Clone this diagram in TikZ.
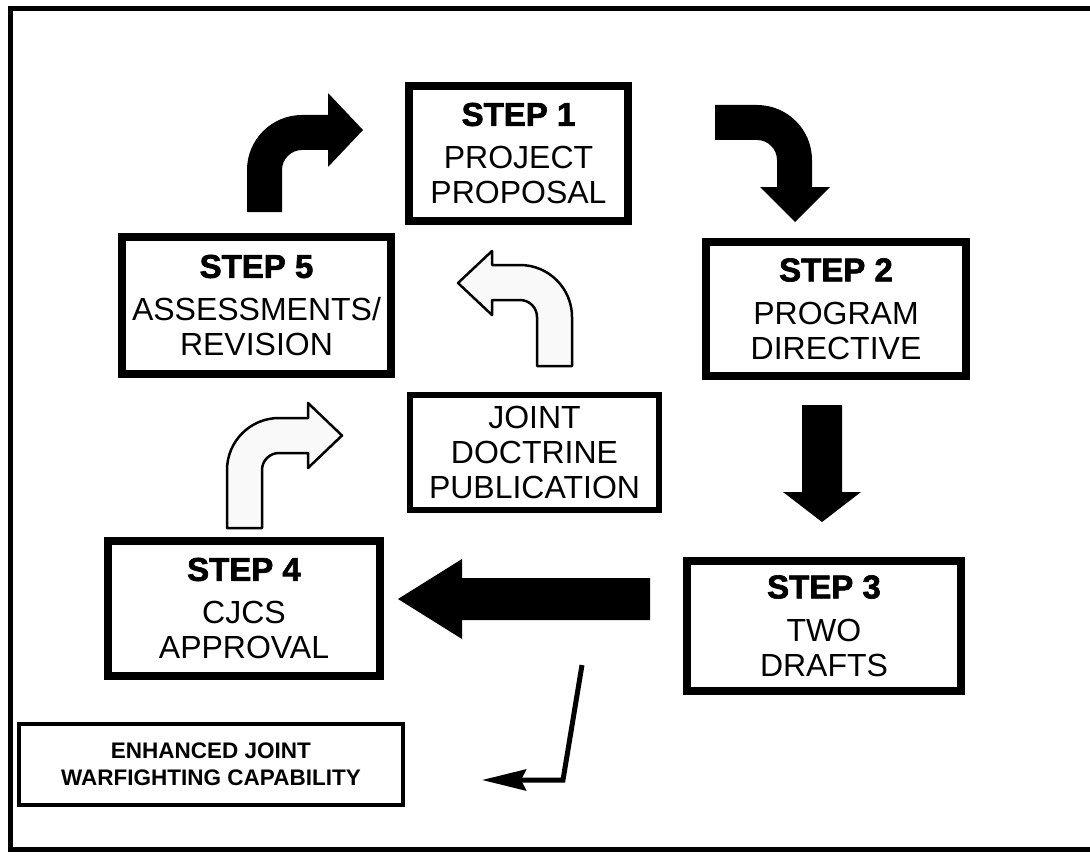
\documentclass[tikz,border=0pt]{standalone}
\usepackage{fontspec}
\setmainfont{Liberation Sans}
\newfontfamily\heavyfont[FakeBold=2]{Liberation Sans Bold}
\usetikzlibrary{arrows.meta}
\tikzset{
  stepbox/.style={draw=black, line width=8pt, align=center, inner sep=0pt, font=\fontsize{32}{35}\selectfont},
  jointbox/.style={draw=black, line width=6pt, align=center, inner sep=0pt, font=\fontsize{32}{35}\selectfont},
  endbox/.style={draw=black, line width=4pt, align=center, inner sep=0pt, font=\fontsize{22.5}{27}\selectfont\bfseries},
  blackarrow/.style={fill=black, draw=none},
  whitearrow/.style={fill=gray!5, draw=black, line width=2.5pt, line join=round},
  thinarrow/.style={draw=black, line width=5pt, -{Stealth[length=44pt,width=21pt,inset=5pt]}},
  frame/.style={draw=black, line width=5pt}
}
\newcommand{\steptitle}[1]{{\heavyfont\fontsize{33}{36}\selectfont #1}\\[8pt]}
\begin{document}
\begin{tikzpicture}[x=1pt,y=-1pt]
\useasboundingbox (0,0) rectangle (1090,856);
% frame
\draw[frame] (1095,9) -- (10,9) -- (10,849) -- (1095,849);

% boxes
\node[stepbox, minimum width=219pt, minimum height=135pt] (s1) at (518.5,153.5)
  {\steptitle{STEP 1}PROJECT\\PROPOSAL};
\node[stepbox, minimum width=260pt, minimum height=134pt] (s2) at (836,309)
  {\steptitle{STEP 2}PROGRAM\\DIRECTIVE};
\node[stepbox, minimum width=274pt, minimum height=130pt] (s3) at (824,626)
  {\steptitle{STEP 3}TWO\\DRAFTS};
\node[stepbox, minimum width=272pt, minimum height=135pt] (s4) at (244,608.5)
  {\steptitle{STEP 4}CJCS\\APPROVAL};
\node[stepbox, minimum width=269pt, minimum height=137pt] (s5) at (256.5,305.5)
  {\steptitle{STEP 5}ASSESSMENTS/\\REVISION};
\node[jointbox, minimum width=249pt, minimum height=115pt] (jd) at (534.5,452.5)
  {JOINT\\DOCTRINE\\PUBLICATION};
\node[endbox, minimum width=384pt, minimum height=81pt] (enh) at (211,764.5)
  {ENHANCED JOINT\\WARFIGHTING CAPABILITY};

% black arrow: step 5 -> step 1
\path[blackarrow] (247,212) -- (247,170) .. controls (247,139.6) and (271.6,115) .. (302,115)
  -- (328,115) -- (328,93) -- (363,130) -- (328,167) -- (328,150) -- (302,150)
  .. controls (291,150) and (282,159) .. (282,170) -- (282,212) -- cycle;

% black arrow: step 1 -> step 2
\path[blackarrow] (715,105) -- (757,105) .. controls (787.4,105) and (812,129.6) .. (812,160)
  -- (812,187) -- (830,187) -- (795,222) -- (760,187) -- (777,187) -- (777,160)
  .. controls (777,149) and (768,140) .. (757,140) -- (715,140) -- cycle;

% black arrow: step 2 -> step 3
\path[blackarrow] (802,405) -- (842,405) -- (842,492) -- (861,492) -- (822,522)
  -- (783,492) -- (802,492) -- cycle;

% black arrow: step 3 -> step 4
\path[blackarrow] (650,578) -- (650,620) -- (462,620) -- (462,639) -- (398,599)
  -- (462,559) -- (462,578) -- cycle;

% white arrow: publication -> step 5
\path[whitearrow] (572,366) -- (572,317) .. controls (572,288.3) and (548.7,265) .. (520,265)
  -- (492,265) -- (492,251) -- (458,283) -- (492,315) -- (492,300) -- (520,300)
  .. controls (529.4,300) and (537,307.6) .. (537,317) -- (537,366) -- cycle;

% white arrow: step 4 -> publication
\path[whitearrow] (227,528) -- (227,470) .. controls (227,441.3) and (250.3,418) .. (279,418)
  -- (308,418) -- (308,403) -- (342,435.5) -- (308,468) -- (308,453) -- (279,453)
  .. controls (269.6,453) and (262,460.6) .. (262,470) -- (262,528) -- cycle;

% thin arrow to enhanced capability
\coordinate (g0) at (582,665);
\coordinate (g1) at (563,780);
\coordinate (gtip) at (482,780);
\draw[thinarrow, line join=miter] (g0) -- (g1) -- (gtip);
\end{tikzpicture}
\end{document}
